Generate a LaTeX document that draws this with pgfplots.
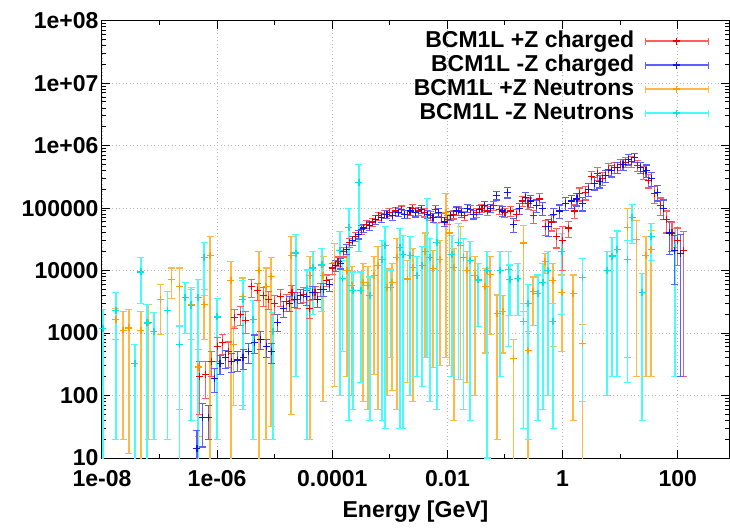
\documentclass[border=0pt]{standalone}
\usepackage{fontspec}
\setmainfont{Liberation Sans}
\usepackage{pgfplots}
\pgfplotsset{compat=1.18}
\definecolor{barR}{RGB}{255,95,95}
\definecolor{barB}{RGB}{95,95,255}
\definecolor{barO}{RGB}{255,185,70}
\definecolor{barC}{RGB}{70,252,252}
\definecolor{mkR}{RGB}{240,0,0}
\definecolor{mkB}{RGB}{20,20,230}
\definecolor{mkO}{RGB}{255,160,0}
\definecolor{mkC}{RGB}{0,230,230}
\pgfplotsset{
  legimg/.style 2 args={legend image code/.code={\draw[draw=#1, line width=1.1pt] (0pt,0pt) -- (63pt,0pt) (0pt,-3.5pt) -- (0pt,3.5pt) (63pt,-3.5pt) -- (63pt,3.5pt); \draw[draw=#2, line width=1.1pt] (31.5pt,-3.5pt) -- (31.5pt,3.5pt) (28pt,0pt) -- (35pt,0pt);}}
}
\begin{document}
\begin{tikzpicture}
\begin{axis}[
  scale only axis, width=627pt, height=437.3pt,
  xmode=log, ymode=log,
  xmin=1e-8, xmax=778, ymin=10, ymax=1e8,
  axis line style={black, line width=1pt},
  font=\fontsize{23}{27}\selectfont\bfseries,
  xtick={1e-8,1e-6,1e-4,1e-2,1,100},
  xticklabels={1e-08,1e-06,0.0001,0.01,1,100},
  minor xtick={1e-7,1e-5,1e-3,0.1,10},
  ytick={10,100,1000,10000,100000,1e6,1e7,1e8},
  yticklabels={10,100,1000,10000,100000,1e+06,1e+07,1e+08},
  minor ytick={20,30,40,50,60,70,80,90,200,300,400,500,600,700,800,900,2000,3000,4000,5000,6000,7000,8000,9000,20000,30000,40000,50000,60000,70000,80000,90000,200000,300000,400000,500000,600000,700000,800000,900000,2e6,3e6,4e6,5e6,6e6,7e6,8e6,9e6,2e7,3e7,4e7,5e7,6e7,7e7,8e7,9e7},
  tick align=inside, major tick length=8pt, minor tick length=4pt,
  tick style={black, line width=1pt},
  grid=major,
  major grid style={gray!55, line width=0.9pt, dash pattern=on 1pt off 2.5pt},
  xticklabel style={yshift=-9pt},
  xlabel={Energy [GeV]},
  xlabel style={at={(axis description cs:0.5,0)}, anchor=center, yshift=-54pt},
  legend plot pos=right,
  legend cell align=right,
  legend style={at={(0.973,0.986)}, anchor=north east, draw=none, fill=none,
    font=\fontsize{23}{27}\selectfont\bfseries,
    nodes={inner sep=0.5pt, text height=17.5pt, text depth=5.5pt},
    /tikz/column sep=10pt},
]
\addlegendimage{legimg={barR}{mkR}}
\addlegendentry{BCM1L +Z charged}
\addlegendimage{legimg={barB}{mkB}}
\addlegendentry{BCM1L -Z charged}
\addlegendimage{legimg={barO}{mkO}}
\addlegendentry{BCM1L +Z Neutrons}
\addlegendimage{legimg={barC}{mkC}}
\addlegendentry{BCM1L -Z Neutrons}
% BCM1L +Z Neutrons
\addplot[color=mkO, only marks, mark=+, mark size=3.5pt, mark options={line width=1.1pt}, forget plot,
  error bars/.cd, y dir=both, y explicit,
  error bar style={color=barO, line width=1.1pt},
  error mark options={rotate=90, color=barO, mark size=3.5pt, line width=1.1pt}]
 table[x=x, y=y, y error=e] {
x y e
1.75e-8 1640 860
2.32e-8 1110 1090
2.94e-8 1206 1194
4.75e-8 1100 1099
6.54e-8 1460 1440
1.02e-7 3420 2480
1.64e-7 7300 3700
2.18e-7 5530 5470
3.52e-7 2900 2100
4.66e-7 286 264
5.92e-7 2900 2100
7.52e-7 17500 17499
1.74e-6 7000 6999
1.89e-6 660 590
2.81e-6 3835 3765
5.33e-6 10000 9999
7.06e-6 5510 5490
8.63e-6 8016 7984
1.92e-5 17500 17450
4.10e-5 8310 8290
6.90e-5 8340 8260
1.11e-4 13570 13430
1.80e-4 10100 9900
2.20e-4 5800 5700
3.42e-4 6490 6410
4.17e-4 5780 5720
5.31e-4 8410 8190
6.22e-4 12030 11970
8.93e-4 5400 5300
1.09e-3 6510 6390
1.33e-3 16230 16170
1.99e-3 7330 7170
2.52e-3 11240 11160
4.08e-3 20200 19800
5.62e-3 10640 10360
7.43e-3 15150 14850
9.44e-3 85200 84800
1.07e-2 40000 39700
1.30e-2 11220 11180
1.66e-2 25090 24910
2.19e-2 10080 9920
3.01e-2 8350 8250
4.50e-2 5590 5110
5.49e-2 8770 7830
7.27e-2 2045 2025
9.23e-2 2240 1760
0.138 390 389
0.206 27600 25400
0.251 525 524
0.307 4600 3300
0.496 13800 4800
0.682 6900 6300
0.977 4500 4000
1.52 4270 4230
2.18 675 674
13.2 49200 48800
18.9 31600 31400
28.1 17600 17400
34.4 22100 21900
};
% BCM1L -Z Neutrons
\addplot[color=mkC, only marks, mark=+, mark size=3.5pt, mark options={line width=1.1pt}, forget plot,
  error bars/.cd, y dir=both, y explicit,
  error bar style={color=barC, line width=1.1pt},
  error mark options={rotate=90, color=barC, mark size=3.5pt, line width=1.1pt}]
 table[x=x, y=y, y error=e] {
x y e
1.04e-8 1175 1174
1.75e-8 2260 2240
3.74e-8 330 329
4.75e-8 9500 6500
6.05e-8 1450 1449
8.0e-8 1060 1040
1.35e-7 2310 2290
2.18e-7 650 649
2.77e-7 3685 2715
3.52e-7 2720 2680
4.66e-7 3650 3649
5.92e-7 16000 12000
9.95e-7 1810 1790
2.81e-6 3480 3420
4.20e-6 1660 1640
9.33e-6 1060 1040
2.34e-5 19100 18900
3.64e-5 5110 5090
4.62e-5 11000 9000
6.62e-5 12300 10100
1.36e-4 20900 20800
1.53e-4 7500 7000
1.95e-4 49000 48960
2.29e-4 4780 4720
2.91e-4 260000 240000
3.15e-4 4830 4670
4.52e-4 3970 3930
7.31e-4 15000 14960
8.24e-4 25000 24970
1.01e-3 5300 4900
1.50e-3 23500 23470
1.69e-3 18000 17970
2.24e-3 17400 17300
2.96e-3 8400 8200
3.62e-3 12070 11930
4.42e-3 70700 70300
4.98e-3 16240 16160
6.59e-3 28000 27940
1.20e-2 18100 17900
1.53e-2 28090 27910
1.87e-2 16230 16170
2.47e-2 14420 14380
3.40e-2 7080 5820
4.87e-2 10000 9990
8.19e-2 10100 9900
0.113 10300 9700
0.122 7100 5200
0.168 7400 5500
0.206 1515 1485
0.251 2960 2940
0.374 4270 4230
0.457 6480 6420
0.558 10050 9950
0.682 1515 1485
0.977 20500 18500
2.18 7790 7710
5.92 10050 9950
7.23 17100 16900
8.83 21600 21400
13.2 15000 14840
16.1 71000 44000
24.0 4520 4480
34.4 35250 20750
89.7 23600 23400
};
% BCM1L +Z charged
\addplot[color=mkR, only marks, mark=+, mark size=3.5pt, mark options={line width=1.1pt}, forget plot,
  error bars/.cd, y dir=both, y explicit,
  error bar style={color=barR, line width=1.1pt},
  error mark options={rotate=90, color=barR, mark size=3.5pt, line width=1.1pt}]
 table[x=x, y=y, y error=e] {
x y e
5.012e-7 200 150
6.310e-7 220 130
7.943e-7 350 150
1.000e-6 600 250
1.259e-6 700 250
1.585e-6 500 220
1.995e-6 1800 600
2.512e-6 2000 700
3.162e-6 1600 600
3.981e-6 5500 1800
5.012e-6 4800 1500
6.310e-6 4000 1300
7.943e-6 3500 1100
1.000e-5 3000 1000
1.259e-5 3800 1100
1.585e-5 3200 1000
1.995e-5 4500 1200
2.512e-5 3500 1000
3.162e-5 4200 1100
3.981e-5 2500 800
5.012e-5 4500 1100
6.310e-5 5000 1200
7.943e-5 7000 1500
1.000e-4 11000 2200
1.259e-4 14000 2500
1.585e-4 20000 3500
1.995e-4 28000 4500
2.512e-4 35000 5500
3.162e-4 45000 7000
3.981e-4 55000 8000
5.012e-4 60000 9000
6.310e-4 75000 11000
7.943e-4 80000 12000
1.000e-3 85000 12000
1.259e-3 90000 13000
1.585e-3 95000 13000
1.995e-3 80000 12000
2.512e-3 100000 14000
3.162e-3 90000 13000
3.981e-3 85000 13000
5.012e-3 75000 12000
6.310e-3 95000 14000
7.943e-3 70000 11000
1.000e-2 65000 11000
1.259e-2 80000 13000
1.585e-2 90000 14000
1.995e-2 75000 12000
2.512e-2 95000 15000
3.162e-2 85000 14000
3.981e-2 100000 16000
5.012e-2 90000 15000
6.310e-2 110000 18000
7.943e-2 95000 16000
0.1000 85000 15000
0.1259 90000 17000
0.1585 80000 16000
0.1995 130000 25000
0.2512 120000 25000
0.3162 75000 18000
0.3981 140000 30000
0.5012 50000 14000
0.6310 60000 17000
0.7943 35000 12000
1.000 30000 20000
1.259 48000 14000
1.585 90000 22000
1.995 170000 40000
2.512 180000 45000
3.162 320000 70000
3.981 360000 80000
5.012 300000 70000
6.310 420000 90000
7.943 450000 90000
10.00 500000 100000
12.59 540000 100000
15.85 560000 110000
19.95 480000 100000
25.12 380000 90000
31.62 280000 70000
39.81 170000 50000
50.12 110000 35000
63.10 65000 25000
79.43 40000 20000
100.0 30000 18000
125.9 21000 20800
};
% BCM1L -Z charged
\addplot[color=mkB, only marks, mark=+, mark size=3.5pt, mark options={line width=1.1pt}, forget plot,
  error bars/.cd, y dir=both, y explicit,
  error bar style={color=barB, line width=1.1pt},
  error mark options={rotate=90, color=barB, mark size=3.5pt, line width=1.1pt}]
 table[x=x, y=y, y error=e] {
x y e
4.467e-7 14 13.9
5.623e-7 45 30
7.079e-7 45 25
8.913e-7 190 80
1.122e-6 330 110
1.413e-6 400 130
1.778e-6 350 120
2.239e-6 370 130
2.818e-6 400 140
3.548e-6 500 170
4.467e-6 700 230
5.623e-6 800 260
7.079e-6 600 200
8.913e-6 500 170
1.122e-5 1500 450
1.413e-5 2500 700
1.778e-5 3000 800
2.239e-5 3500 900
2.818e-5 4000 1000
3.548e-5 3800 1000
4.467e-5 4500 1100
5.623e-5 3500 900
7.079e-5 5000 1200
8.913e-5 6000 1300
1.122e-4 12000 2300
1.413e-4 13000 2400
1.778e-4 22000 3800
2.239e-4 30000 4800
2.818e-4 38000 6000
3.548e-4 48000 7500
4.467e-4 52000 8000
5.623e-4 65000 10000
7.079e-4 70000 11000
8.913e-4 80000 12000
1.122e-3 75000 11000
1.413e-3 85000 12000
1.778e-3 80000 12000
2.239e-3 90000 13000
2.818e-3 85000 13000
3.548e-3 95000 14000
4.467e-3 80000 12000
5.623e-3 70000 11000
7.079e-3 85000 13000
8.913e-3 60000 10000
1.122e-2 75000 12000
1.413e-2 90000 14000
1.778e-2 85000 14000
2.239e-2 100000 16000
2.818e-2 80000 13000
3.548e-2 95000 15000
4.467e-2 110000 17000
5.623e-2 100000 16000
7.079e-2 160000 25000
8.913e-2 90000 16000
0.1122 180000 35000
0.1413 55000 14000
0.1778 100000 20000
0.2239 150000 30000
0.2818 130000 28000
0.3548 110000 25000
0.4467 100000 24000
0.5623 50000 15000
0.7079 80000 20000
0.8913 90000 22000
1.122 120000 28000
1.413 130000 30000
1.778 140000 32000
2.239 120000 30000
2.818 200000 45000
3.548 250000 55000
4.467 270000 60000
5.623 330000 70000
7.079 400000 85000
8.913 450000 90000
11.22 500000 100000
14.13 600000 110000
17.78 650000 110000
22.39 450000 95000
28.18 400000 90000
35.48 300000 75000
44.67 180000 50000
56.23 100000 35000
70.79 40000 22000
89.13 21000 15000
112.2 19000 18800
};
\end{axis}
\pgfresetboundingbox
\path[use as bounding box] (-102pt,-69pt) rectangle (628pt,458pt);
\end{tikzpicture}
\end{document}
